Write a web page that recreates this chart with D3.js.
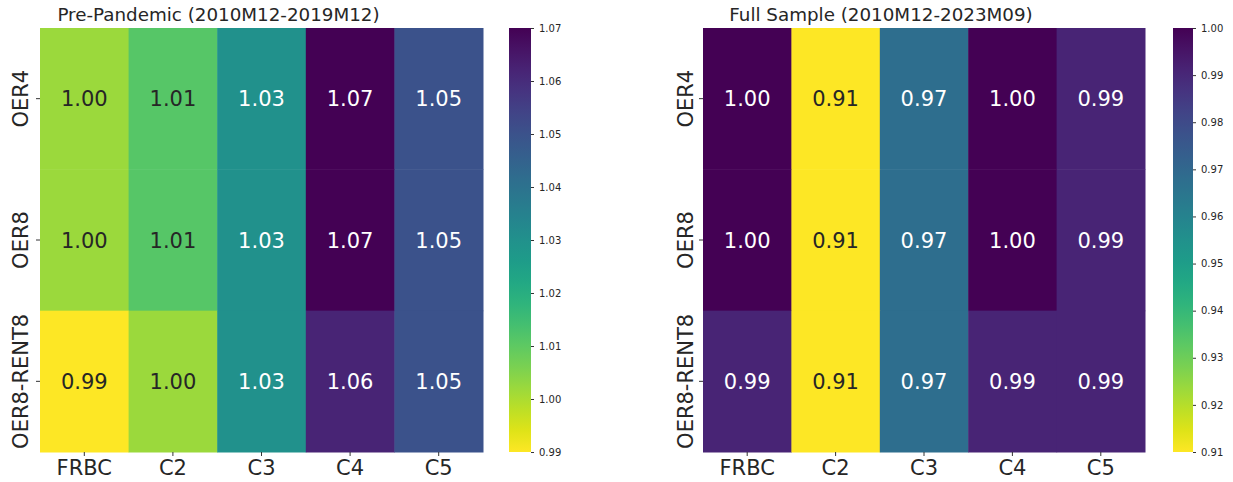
<!DOCTYPE html>
<html>
<head>
<meta charset="utf-8">
<script src="https://cdn.jsdelivr.net/npm/d3@7"></script>
<style>
  body { margin: 0; background: #fff; }
  svg text { font-family: 'DejaVu Sans', sans-serif; }
</style>
</head>
<body>
<div id="chart"></div>
<script>
var columns = ['FRBC', 'C2', 'C3', 'C4', 'C5'];
var rows = ['OER4', 'OER8', 'OER8-RENT8'];

// Pre-pandemic ratios, one array per row
var preOER4 = [1.002, 1.011, 1.030, 1.070, 1.050];
var preOER8 = [1.002, 1.011, 1.030, 1.070, 1.050];
var preRENT8 = [0.990, 1.002, 1.030, 1.062, 1.050];
var preTicks = [0.99, 1.00, 1.01, 1.02, 1.03, 1.04, 1.05, 1.06, 1.07];

// Full sample ratios
var fullOER4 = [1.000, 0.910, 0.968, 1.000, 0.991];
var fullOER8 = [1.000, 0.910, 0.968, 1.000, 0.991];
var fullRENT8 = [0.991, 0.910, 0.968, 0.991, 0.991];
var fullTicks = [0.91, 0.92, 0.93, 0.94, 0.95, 0.96, 0.97, 0.98, 0.99, 1.00];

var panels = [
  {
    title: 'Pre-Pandemic (2010M12-2019M12)',
    values: [preOER4, preOER8, preRENT8],
    domain: [0.99, 1.07],
    ticks: preTicks,
    left: 40, right: 483, labelGap: 12,
    barLeft: 509, barWidth: 22
  },
  {
    title: 'Full Sample (2010M12-2023M09)',
    values: [fullOER4, fullOER8, fullRENT8],
    domain: [0.91, 1.00],
    ticks: fullTicks,
    left: 703, right: 1145, labelGap: 10,
    barLeft: 1173, barWidth: 20
  }
];

var plotTop = 28, plotBottom = 452;

var svg = d3.select('#chart').append('svg')
            .attr('width', 1233)
            .attr('height', 482);

// luminance rule used by seaborn to pick annotation colour
function textColor(c) {
  var rgb = d3.rgb(c);
  var lin = [rgb.r, rgb.g, rgb.b].map(function(v) {
    v = v / 255;
    return v <= 0.03928 ? v / 12.92 : Math.pow((v + 0.055) / 1.055, 2.4);
  });
  var lum = 0.2126 * lin[0] + 0.7152 * lin[1] + 0.0722 * lin[2];
  return lum > 0.408 ? '#262626' : '#ffffff';
}

panels.forEach(function(p, pi) {
  var color = d3.scaleSequential(function(t) { return d3.interpolateViridis(1 - t); })
                .domain(p.domain);

  var x = d3.scaleBand().domain(columns).range([p.left, p.right]);
  var y = d3.scaleBand().domain(rows).range([plotTop, plotBottom]);

  var cells = [];
  p.values.forEach(function(vals, ri) {
    vals.forEach(function(v, ci) {
      cells.push({row: rows[ri], col: columns[ci], value: v});
    });
  });

  var g = svg.append('g').attr('class', 'panel' + pi);

  g.selectAll('rect.cell')
   .data(cells)
   .enter()
   .append('rect')
   .attr('class', 'cell')
   .attr('x', function(d) { return x(d.col); })
   .attr('y', function(d) { return y(d.row); })
   .attr('width', x.bandwidth() + 0.5)
   .attr('height', y.bandwidth() + 0.5)
   .attr('fill', function(d) { return color(d.value); });

  g.selectAll('text.annot')
   .data(cells)
   .enter()
   .append('text')
   .attr('class', 'annot')
   .attr('x', function(d) { return x(d.col) + x.bandwidth() / 2; })
   .attr('y', function(d) { return y(d.row) + y.bandwidth() / 2; })
   .attr('dy', '0.36em')
   .attr('text-anchor', 'middle')
   .attr('font-size', '21px')
   .attr('fill', function(d) { return textColor(color(d.value)); })
   .text(function(d) { return d.value.toFixed(2); });

  // x axis ticks + labels
  var xaxis = g.append('g').attr('class', 'xaxis');
  xaxis.selectAll('line')
       .data(columns)
       .enter()
       .append('line')
       .attr('x1', function(d) { return x(d) + x.bandwidth() / 2; })
       .attr('x2', function(d) { return x(d) + x.bandwidth() / 2; })
       .attr('y1', plotBottom)
       .attr('y2', plotBottom + 4)
       .attr('stroke', '#333')
       .attr('stroke-width', 1);
  xaxis.selectAll('text')
       .data(columns)
       .enter()
       .append('text')
       .attr('x', function(d) { return x(d) + x.bandwidth() / 2; })
       .attr('y', 475)
       .attr('text-anchor', 'middle')
       .attr('font-size', '21px')
       .attr('fill', '#262626')
       .text(function(d) { return d; });

  // y axis ticks + rotated labels
  var yaxis = g.append('g').attr('class', 'yaxis');
  yaxis.selectAll('line')
       .data(rows)
       .enter()
       .append('line')
       .attr('x1', p.left - 4)
       .attr('x2', p.left)
       .attr('y1', function(d) { return y(d) + y.bandwidth() / 2; })
       .attr('y2', function(d) { return y(d) + y.bandwidth() / 2; })
       .attr('stroke', '#333')
       .attr('stroke-width', 1);
  yaxis.selectAll('text')
       .data(rows)
       .enter()
       .append('text')
       .attr('transform', function(d) {
         return 'translate(' + (p.left - p.labelGap) + ',' + (y(d) + y.bandwidth() / 2) + ') rotate(-90)';
       })
       .attr('text-anchor', 'middle')
       .attr('font-size', '21px')
       .attr('fill', '#262626')
       .text(function(d) { return d; });

  // title (sits a bit left of the heatmap centre, as in the source figure)
  g.append('text')
   .attr('x', (p.left + p.right) / 2 - 43)
   .attr('y', 21)
   .attr('text-anchor', 'middle')
   .attr('font-size', '18.3px')
   .attr('fill', '#262626')
   .text(p.title);

  // colorbar
  var gradId = 'grad' + pi;
  var grad = svg.append('defs').append('linearGradient')
                .attr('id', gradId)
                .attr('x1', '0%').attr('y1', '100%')
                .attr('x2', '0%').attr('y2', '0%');
  d3.range(0, 1.0001, 0.05).forEach(function(t) {
    grad.append('stop')
        .attr('offset', (t * 100) + '%')
        .attr('stop-color', d3.interpolateViridis(1 - t));
  });

  svg.append('rect')
     .attr('x', p.barLeft)
     .attr('y', plotTop)
     .attr('width', p.barWidth)
     .attr('height', plotBottom - plotTop)
     .attr('fill', 'url(#' + gradId + ')');

  var cy = d3.scaleLinear().domain(p.domain).range([plotBottom, plotTop]);
  var cbar = svg.append('g')
                .attr('class', 'cbar')
                .attr('transform', 'translate(' + (p.barLeft + p.barWidth) + ',0)')
                .call(d3.axisRight(cy)
                        .tickValues(p.ticks)
                        .tickSize(3)
                        .tickPadding(5)
                        .tickFormat(d3.format('.2f')));
  cbar.select('.domain').remove();
  cbar.selectAll('.tick line').attr('stroke', '#333');
  cbar.selectAll('.tick text')
      .attr('font-size', '10px')
      .attr('font-family', 'DejaVu Sans, sans-serif')
      .attr('fill', '#262626');
});
</script>
</body>
</html>
